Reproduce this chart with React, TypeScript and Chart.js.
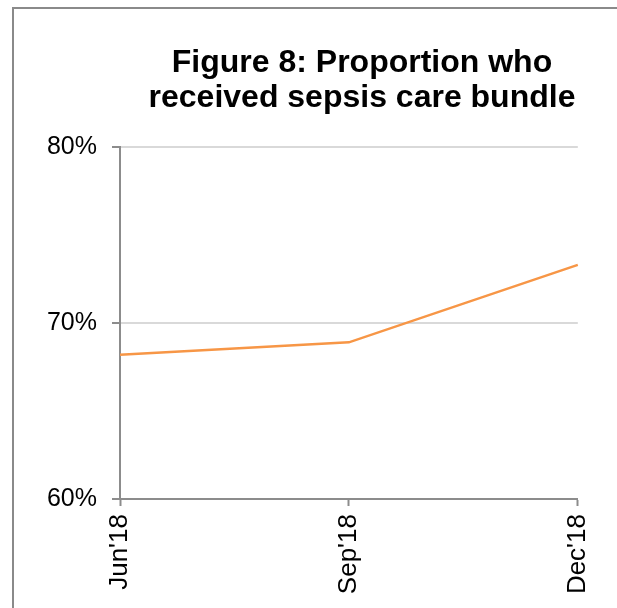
import React, { useEffect, useRef } from "react";
import { Chart, registerables } from "chart.js";

Chart.register(...registerables);

const categories = ["Jun'18", "Sep'18", "Dec'18"];
const values = [68.2, 68.9, 73.3];
const yMin = 60;
const yMax = 80;
const yStep = 10;
const titleLines = ["Figure 8: Proportion who", "received sepsis care bundle"];

const FONT = "'Liberation Sans', Arial, sans-serif";
const AXIS_GRAY = "#8c8c8c";

const framePlugin = {
  id: "frame",
  beforeDraw(chart: any) {
    const ctx = chart.ctx;
    ctx.save();
    ctx.fillStyle = "#ffffff";
    ctx.fillRect(0, 0, chart.width, chart.height);
    ctx.strokeStyle = "#8a8a8a";
    ctx.lineWidth = 2;
    ctx.beginPath();
    ctx.moveTo(13, chart.height);
    ctx.lineTo(13, 8);
    ctx.lineTo(chart.width, 8);
    ctx.stroke();
    ctx.restore();
  },
  afterDraw(chart: any) {
    const ctx = chart.ctx;
    ctx.save();
    ctx.fillStyle = "#000000";
    ctx.font = `bold 32px ${FONT}`;
    ctx.textAlign = "center";
    ctx.textBaseline = "alphabetic";
    ctx.fillText(titleLines[0], 362, 72);
    ctx.fillText(titleLines[1], 362, 107);
    ctx.restore();
  },
};

export default function App() {
  const ref = useRef<HTMLCanvasElement | null>(null);

  useEffect(() => {
    if (!ref.current) return;
    const chart = new Chart(ref.current, {
      type: "line",
      data: {
        labels: categories,
        datasets: [
          {
            data: values,
            borderColor: "#F79646",
            borderWidth: 2.5,
            pointRadius: 0,
            tension: 0,
            fill: false,
          },
        ],
      },
      options: {
        animation: false,
        responsive: false,
        maintainAspectRatio: false,
        layout: { padding: { top: 147, right: 38, left: 0, bottom: 0 } },
        plugins: {
          legend: { display: false },
          title: { display: false },
          tooltip: { enabled: false },
        },
        scales: {
          x: {
            offset: false,
            grid: {
              drawOnChartArea: false,
              drawTicks: true,
              tickLength: 7,
              tickColor: AXIS_GRAY,
              tickWidth: 2,
            },
            border: { display: true, color: AXIS_GRAY, width: 2 },
            ticks: {
              minRotation: 90,
              maxRotation: 90,
              padding: 8,
              color: "#000000",
              font: { family: FONT, size: 26 },
            },
            afterFit(scale: any) {
              scale.height = 109;
            },
          },
          y: {
            min: yMin,
            max: yMax,
            grid: {
              color: "#d9d9d9",
              lineWidth: 2,
              drawTicks: true,
              tickLength: 8,
              tickColor: AXIS_GRAY,
              tickWidth: 2,
            },
            border: { display: true, color: AXIS_GRAY, width: 2 },
            ticks: {
              stepSize: yStep,
              padding: 15,
              color: "#000000",
              font: { family: FONT, size: 25 },
              callback: (v: any) => `${v}%`,
            },
            afterFit(scale: any) {
              scale.width = 120;
            },
          },
        },
      },
      plugins: [framePlugin],
    });
    return () => chart.destroy();
  }, []);

  return (
    <div style={{ position: "fixed", left: 0, top: 0, width: 617, height: 608 }}>
      <canvas ref={ref} width={617} height={608} style={{ display: "block" }} />
    </div>
  );
}
